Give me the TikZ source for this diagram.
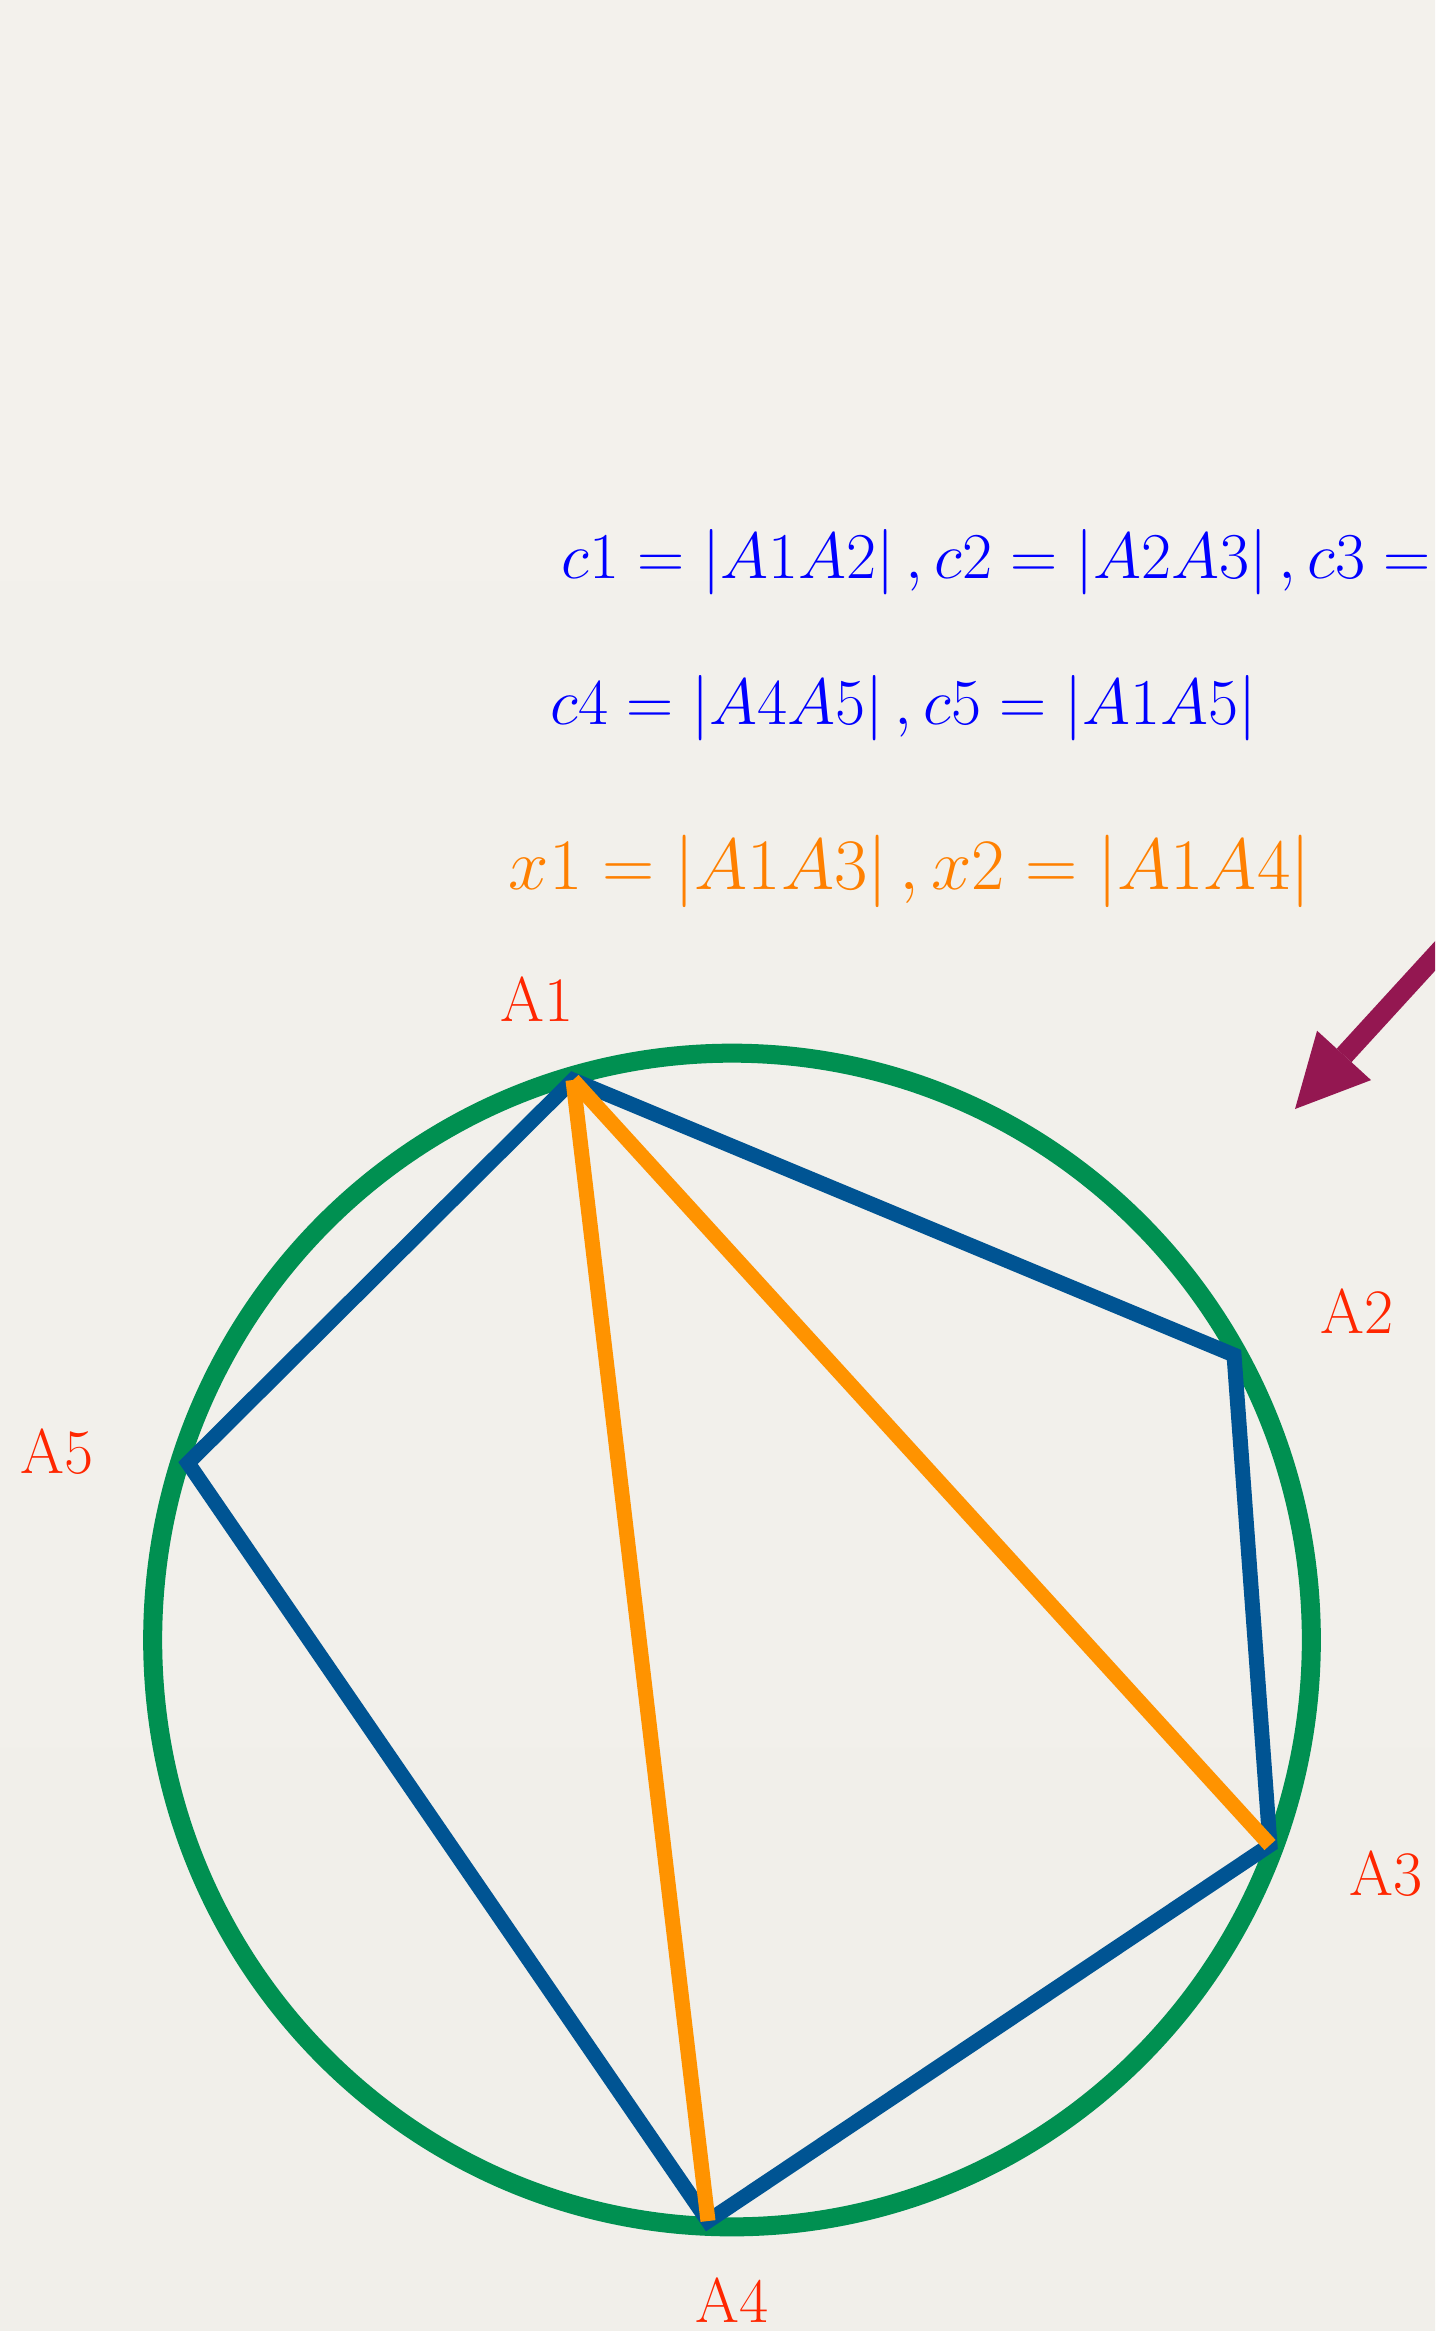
\documentclass[tikz,border=0pt]{standalone}
\usepackage{fix-cm}
\usetikzlibrary{arrows.meta}
\definecolor{papierhaut}{RGB}{243,241,236}
\definecolor{papiermilieu}{RGB}{228,225,220}
\definecolor{papierbas}{RGB}{241,239,234}
\definecolor{vert}{RGB}{0,144,81}
\definecolor{bleufonce}{RGB}{0,84,147}
\definecolor{orangevif}{RGB}{255,147,0}
\definecolor{orangetexte}{RGB}{255,128,0}
\definecolor{rouge}{RGB}{255,38,0}
\definecolor{prune}{RGB}{148,23,81}
\tikzset{
	cercle/.style={draw=vert, line width=0.19cm},
	cote/.style={draw=bleufonce, line width=0.15cm, line join=miter},
	diagonale/.style={draw=orangevif, line width=0.15cm},
	etiq/.style={text=rouge, inner sep=0pt, font=\fontsize{18pt}{20pt}\selectfont},
	formule/.style={anchor=base west, inner sep=0pt},
	fleche/.style={draw=prune, line width=0.2cm,
		-{Triangle[length=7.26mm, width=7.31mm, line width=0pt]}}
}
\newcommand{\sommet}[3]{\coordinate (#1) at (#2);
	\node[etiq] (l#1) at (#3) {#1}}
\newcommand{\diag}[2]{\draw[diagonale] (#1) -- (#2)}
\newcommand{\normale}{\fontsize{18.6pt}{21pt}\selectfont}
\newcommand{\grande}{\fontsize{20.6pt}{23pt}\selectfont}

\begin{document}
\begin{tikzpicture}[x=0.01cm,y=-0.01cm]
%
	\useasboundingbox (0,0) rectangle (1435,2331);
	\clip (0,0) rectangle (1435,2331);
	\shade[top color=papierhaut, middle color=papiermilieu, bottom color=papierbas]
		(0,0) rectangle (1435,2331);
%
	\node[formule, text=blue, font=\normale] (ligne1) at (561,578)
		{$c1=\left|A1A2\right|,c2=\left|A2A3\right|,c3=$};
	\node[formule, text=blue, font=\normale] (ligne2) at (550,724)
		{$c4=\left|A4A5\right|,c5=\left|A1A5\right|$};
	\node[formule, text=orangetexte, font=\grande] (ligne3) at (508,889)
		{$x1=\left|A1A3\right|,x2=\left|A1A4\right|$};
%
	\sommet{A1}{573,1080}{537,999};
	\sommet{A2}{1234,1355}{1357,1311};
	\sommet{A3}{1270,1845}{1386,1874};
	\sommet{A4}{708,2221}{732,2300};
	\sommet{A5}{188,1463}{57,1452};
%
	\coordinate (O) at (732,1640);
	\draw[cercle] (O) ellipse [x radius=5.79cm, y radius=5.865cm];
	\draw[cote] (A1) -- (A2) -- (A3) -- (A4) -- (A5) -- cycle;
	\diag{A1}{A3};
	\diag{A1}{A4};
%
	\coordinate (fdebut) at (1500,885);
	\coordinate (fpointe) at (1295,1109);
	\draw[fleche] (fdebut) -- (fpointe);
%
\end{tikzpicture}
\end{document}
